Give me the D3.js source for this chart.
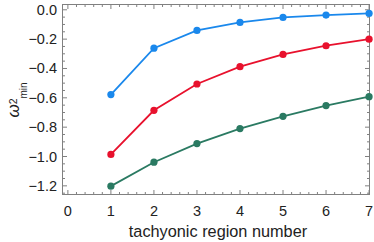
<!DOCTYPE html>
<html>
<head>
<meta charset="utf-8">
<script src="https://cdn.jsdelivr.net/npm/d3@7"></script>
<style>
  body { margin: 0; background: #fff; }
  svg { display: block; font-family: "Liberation Sans", Arial, sans-serif; }
</style>
</head>
<body>
<div id="chart"></div>
<script>
// region numbers and lowest omega^2 per series
const regions = [1, 2, 3, 4, 5, 6, 7];
const blueVals  = [-0.578, -0.262, -0.141, -0.086, -0.052, -0.036, -0.025];
const redVals   = [-0.986, -0.685, -0.506, -0.388, -0.304, -0.245, -0.200];
const greenVals = [-1.202, -1.039, -0.912, -0.810, -0.726, -0.653, -0.592];
const xTicks = [0, 1, 2, 3, 4, 5, 6, 7];
const yTicks = [0, -0.2, -0.4, -0.6, -0.8, -1.0, -1.2];

const series = [
    { vals: blueVals,  color: '#1a88ec' },
    { vals: redVals,   color: '#e8112d' },
    { vals: greenVals, color: '#2a7a62' }
];

const width = 374, height = 242;
const mLeft = 62.5, mRight = 369.5, mTop = 4.5, mBottom = 194.5;

const x = d3.scaleLinear().domain([-0.125, 7.01]).range([mLeft, mRight]);
const y = d3.scaleLinear().domain([-1.259, 0.036]).range([mBottom, mTop]);

const svg = d3.select('#chart')
    .append('svg')
      .attr('width', width)
      .attr('height', height);

// minor + major ticks, drawn inward on all four sides
const frameColor = '#808080';
const xMinor = d3.range(0, 7.001, 0.2).filter(v => Math.abs(v - Math.round(v)) > 1e-6);
const yMinor = d3.range(-1.25, 0.0001, 0.05).filter(v => Math.abs(v * 5 - Math.round(v * 5)) > 1e-6);

const ticks = svg.append('g').attr('stroke', frameColor).attr('stroke-width', 1);

const addX = (vals, len) => {
    vals.forEach(v => {
        ticks.append('line').attr('x1', x(v)).attr('x2', x(v)).attr('y1', mBottom).attr('y2', mBottom - len);
        ticks.append('line').attr('x1', x(v)).attr('x2', x(v)).attr('y1', mTop).attr('y2', mTop + len);
    });
};
const addY = (vals, len) => {
    vals.forEach(v => {
        ticks.append('line').attr('y1', y(v)).attr('y2', y(v)).attr('x1', mLeft).attr('x2', mLeft + len);
        ticks.append('line').attr('y1', y(v)).attr('y2', y(v)).attr('x1', mRight).attr('x2', mRight - len);
    });
};
addX(xTicks, 4.5);
addX(xMinor, 2.5);
addY(yTicks, 4.5);
addY(yMinor, 2.5);

svg.append('rect')
    .attr('x', mLeft).attr('y', mTop)
    .attr('width', mRight - mLeft).attr('height', mBottom - mTop)
    .attr('fill', 'none')
    .attr('stroke', frameColor)
    .attr('stroke-width', 1);

// tick labels
svg.append('g')
    .selectAll('text')
    .data(xTicks)
    .enter()
    .append('text')
      .attr('x', d => x(d))
      .attr('y', 215.5)
      .attr('text-anchor', 'middle')
      .style('font-size', '14.5px')
      .attr('fill', '#222')
      .text(d => d);

svg.append('g')
    .selectAll('text')
    .data(yTicks)
    .enter()
    .append('text')
      .attr('x', 57)
      .attr('y', d => y(d) + 5)
      .attr('text-anchor', 'end')
      .style('font-size', '14.5px')
      .attr('fill', '#222')
      .text(d => d3.format('.1f')(d).replace('-', '\u2212'));

// lines and markers
const line = d3.line()
    .x((d, i) => x(regions[i]))
    .y(d => y(d));

series.forEach(s => {
    svg.append('path')
        .attr('d', line(s.vals))
        .attr('fill', 'none')
        .attr('stroke', s.color)
        .attr('stroke-width', 1.8);
    svg.append('g')
        .selectAll('circle')
        .data(s.vals)
        .enter()
        .append('circle')
          .attr('cx', (d, i) => x(regions[i]))
          .attr('cy', d => y(d))
          .attr('r', 3.6)
          .attr('fill', s.color);
});

// axis titles
svg.append('text')
    .attr('x', 218)
    .attr('y', 236.5)
    .attr('text-anchor', 'middle')
    .style('font-size', '16.3px')
    .attr('fill', '#222')
    .text('tachyonic region number');

const yl = svg.append('text')
    .attr('transform', 'translate(18.5, 100) rotate(-90)')
    .attr('text-anchor', 'middle')
    .attr('fill', '#222')
    .style('font-size', '17px');
yl.append('tspan').style('font-style', 'italic').text('\u03c9');
yl.append('tspan').attr('dy', -2).style('font-size', '10.5px').text('2');
yl.append('tspan').attr('dy', 10.5).style('font-size', '10px').text('min');
</script>
</body>
</html>
